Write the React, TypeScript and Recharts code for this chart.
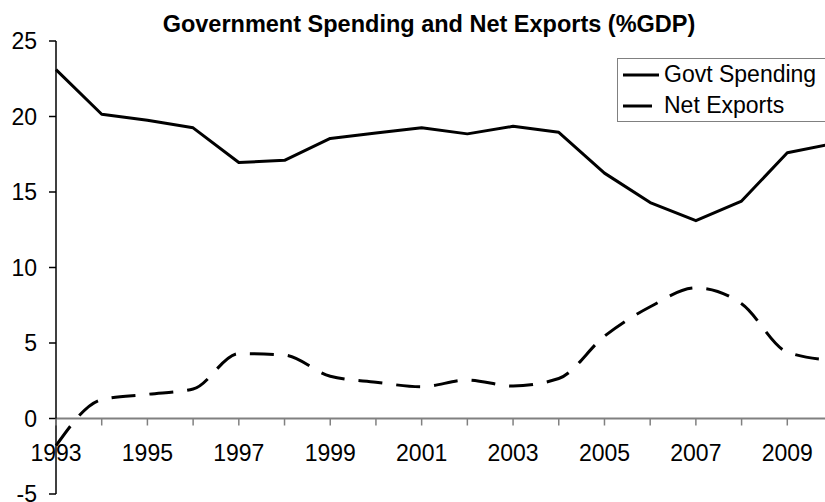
import React from 'react';
import { LineChart, Line, XAxis, YAxis, ReferenceLine } from 'recharts';

// values (%GDP)
const years = [1993, 1994, 1995, 1996, 1997, 1998, 1999, 2000, 2001, 2002, 2003, 2004, 2005, 2006, 2007, 2008, 2009, 2010];
const govtSpending = [23.1, 20.15, 19.75, 19.25, 16.95, 17.1, 18.55, 18.9, 19.25, 18.85, 19.35, 18.95, 16.25, 14.3, 13.1, 14.4, 17.6, 18.2];
const netExports = [-1.8, 1.25, 1.6, 1.95, 4.3, 4.2, 2.8, 2.4, 2.1, 2.55, 2.15, 2.65, 5.45, 7.4, 8.65, 7.6, 4.4, 3.85];
const yTicks = [-5, 0, 5, 10, 15, 20, 25];
const labelYears = [1993, 1995, 1997, 1999, 2001, 2003, 2005, 2007, 2009];

const series = [
    { key: 'govt', name: 'Govt Spending', dash: undefined as string | undefined, legendDash: undefined as string | undefined },
    { key: 'net', name: 'Net Exports', dash: '24 14', legendDash: '29 14' },
];

const data = years.map((year, i) => ({ year, govt: govtSpending[i], net: netExports[i] }));

const FONT = '"Liberation Sans", Arial, sans-serif';
const CHART_W = 858;
const CHART_H = 502;
const MARGIN = { top: 41, right: 25, bottom: 7, left: 0 };
const X_AXIS_H = 1;
const Y_MIN = -5;
const Y_MAX = 25;
const plotH = CHART_H - MARGIN.top - MARGIN.bottom - X_AXIS_H;
const zeroY = MARGIN.top + (plotH * Y_MAX) / (Y_MAX - Y_MIN);

// x axis crosses at 0, so ticks and labels hang off the zero line
const YearTick = (props: any) => {
    const { x, payload } = props;
    const show = labelYears.includes(payload.value);
    return (
        <g>
            <line x1={x} x2={x} y1={zeroY} y2={zeroY + 7} stroke="#808080" strokeWidth={1.5} />
            {show && (
                <text x={x} y={zeroY + 42} textAnchor="middle" fill="#000" fontSize={23} fontFamily={FONT}>
                    {payload.value}
                </text>
            )}
        </g>
    );
};

export default function App() {
    return (
        <div style={{ position: 'absolute', left: 0, top: 0, width: 825, height: 502, overflow: 'hidden', background: '#fff' }}>
            <LineChart width={CHART_W} height={CHART_H} data={data} margin={MARGIN}>
                <XAxis
                    dataKey="year"
                    type="number"
                    domain={[1993, 2010]}
                    ticks={years}
                    interval={0}
                    height={X_AXIS_H}
                    axisLine={false}
                    tickLine={false}
                    tick={<YearTick />}
                />
                <YAxis
                    domain={[Y_MIN, Y_MAX]}
                    ticks={yTicks}
                    interval={0}
                    width={56}
                    tickSize={7}
                    tickMargin={12}
                    axisLine={{ stroke: '#000', strokeWidth: 1.5 }}
                    tickLine={{ stroke: '#000', strokeWidth: 1.5 }}
                    tick={{ fill: '#000', fontSize: 23, fontFamily: FONT }}
                />
                <ReferenceLine y={0} stroke="#808080" strokeWidth={2} />
                <Line type="linear" dataKey="govt" name="Govt Spending" stroke="#000" strokeWidth={3} dot={false} strokeLinejoin="round" isAnimationActive={false} />
                <Line type="monotone" dataKey="net" name="Net Exports" stroke="#000" strokeWidth={3} strokeDasharray="24 14" dot={false} isAnimationActive={false} />
            </LineChart>

            <div style={{ position: 'absolute', left: 0, top: 13, width: CHART_W, textAlign: 'center', fontFamily: FONT, fontSize: 23.5, fontWeight: 'bold', lineHeight: 1 }}>
                Government Spending and Net Exports (%GDP)
            </div>

            <div style={{ position: 'absolute', left: 617, top: 58, width: 240, height: 64, boxSizing: 'border-box', border: '1px solid #808080', background: '#fff', paddingLeft: 5 }}>
                {series.map((s) => (
                    <div key={s.key} style={{ display: 'flex', alignItems: 'center', height: 31 }}>
                        <svg width={36} height={6} style={{ marginRight: 5 }}>
                            <line x1={0} x2={36} y1={3} y2={3} stroke="#000" strokeWidth={3} strokeDasharray={s.legendDash} />
                        </svg>
                        <span style={{ fontFamily: FONT, fontSize: 23, color: '#000', whiteSpace: 'nowrap' }}>{s.name}</span>
                    </div>
                ))}
            </div>
        </div>
    );
}
